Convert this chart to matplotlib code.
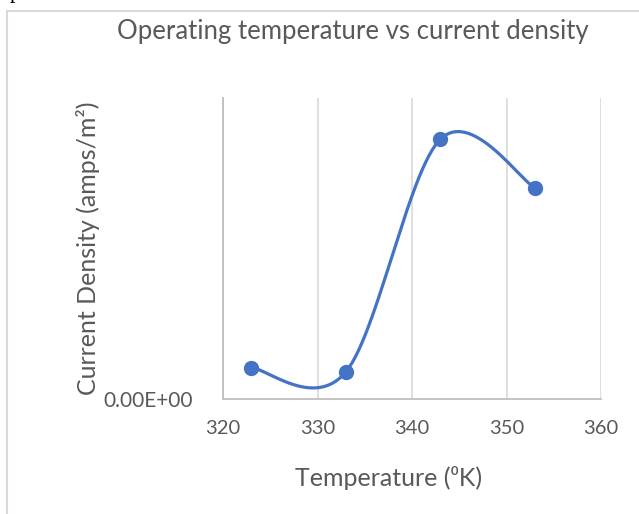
import numpy as np
import matplotlib
matplotlib.use("Agg")
from matplotlib import pyplot as plt

# data (y in arbitrary units, only 0 is labelled)
temperature = [323, 333, 343, 353]
current_density = [0.104, 0.090, 0.863, 0.702]

x_ticks = [320, 330, 340, 350, 360]
title = "Operating temperature vs current density"
xlabel = "Temperature (\u2070K)"
ylabel = "Current Density (amps/m\u00b2)"

plt.rcParams['font.family'] = ['Lato', 'DejaVu Sans']
grey = '#595959'
blue = '#4472C4'


def excel_smooth(xs, ys, n=60):
    # cubic bezier through the points, control points like excel's smoothed line
    p = np.column_stack([xs, ys]).astype(float)
    out = []
    for i in range(len(p) - 1):
        p0 = p[i - 1] if i > 0 else p[i]
        p1 = p[i]
        p2 = p[i + 1]
        p3 = p[i + 2] if i + 2 < len(p) else p[i + 1]
        c1 = p1 + (p2 - p0) / 6
        c2 = p2 - (p3 - p1) / 6
        t = np.linspace(0, 1, n)[:, None]
        seg = (1 - t) ** 3 * p1 + 3 * (1 - t) ** 2 * t * c1 + 3 * (1 - t) * t ** 2 * c2 + t ** 3 * p2
        out.append(seg)
    out = np.vstack(out)
    return out[:, 0], out[:, 1]


fig = plt.figure(figsize=(6.39, 5.14), dpi=100)
ax = fig.add_axes([223 / 639, 1 - 399 / 514, (601 - 223) / 639, (399 - 98) / 514])

sx, sy = excel_smooth(temperature, current_density)
ax.plot(sx, sy, color=blue, lw=2.3, solid_capstyle='round', zorder=3)
ax.plot(temperature, current_density, 'o', color=blue, ms=10, zorder=4)

ax.set_xlim(320, 360)
ax.set_ylim(0, 1.0)
ax.set_xticks(x_ticks)
ax.set_yticks([0])
ax.set_yticklabels(["0.00E+00"])
ax.grid(axis='x', color='#d9d9d9', lw=1.2)
ax.set_axisbelow(True)
for s in ['top', 'right']:
    ax.spines[s].set_visible(False)
for s in ['left', 'bottom']:
    ax.spines[s].set_color('#bfbfbf')
    ax.spines[s].set_linewidth(1.3)
ax.tick_params(length=0, labelsize=14.5, colors=grey, pad=15)
ax.tick_params(axis='y', pad=22, labelsize=15)

ax.set_xlabel(xlabel, fontsize=18, color=grey)
ax.xaxis.set_label_coords((389 - 223) / 378, -(478 - 399) / 301)
ax.xaxis.label.set_va('center')
ax.set_ylabel(ylabel, fontsize=18, color=grey)
ax.yaxis.set_label_coords(-(223 - 88) / 378, (399 - 248) / 301)
ax.yaxis.label.set_va('center')

fig.text(353 / 639, 1 - 32 / 514, title, fontsize=18.5, color=grey, ha='center', va='center')

# chart frame and cut-off letter at the top left
fig.add_artist(plt.Line2D([7 / 639, 1], [1 - 11 / 514] * 2, color='#d9d9d9', lw=1.5))
fig.add_artist(plt.Line2D([7 / 639] * 2, [0, 1 - 11 / 514], color='#d9d9d9', lw=1.5))
fig.text(10 / 639, 1 + 2 / 514, "p", fontsize=16, family='Liberation Serif', color='black', va='baseline')

fig.savefig("out.png", dpi=100)
